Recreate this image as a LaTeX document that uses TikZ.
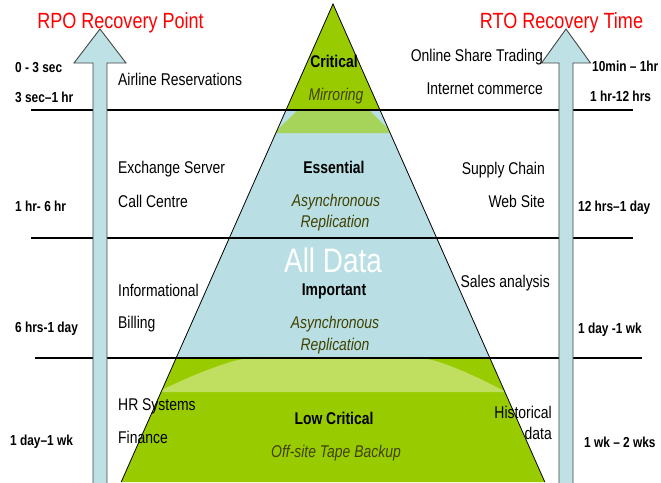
\documentclass[tikz,border=0pt]{standalone}
\usepackage{fontspec}
\setmainfont[FakeStretch=0.82]{Liberation Sans}
\definecolor{lgreen}{RGB}{153,204,0}
\definecolor{lblue}{RGB}{185,223,228}
\definecolor{ablue}{RGB}{190,225,230}
\definecolor{olivetext}{RGB}{64,64,0}
\definecolor{redtxt}{RGB}{255,0,0}
\begin{document}
\begin{tikzpicture}[x=1pt,y=-1pt,
  lbl/.style={font=\fontsize{17}{20}\selectfont, inner sep=0pt},
  tm/.style={font=\bfseries\fontsize{14.5}{17}\selectfont, inner sep=0pt},
  ctrb/.style={font=\bfseries\fontsize{17}{20}\selectfont, inner sep=0pt, anchor=base},
  ctri/.style={font=\itshape\fontsize{17}{20}\selectfont, text=olivetext, inner sep=0pt, anchor=base},
  ttl/.style={font=\fontsize{22}{26}\selectfont, text=redtxt, inner sep=0pt, anchor=base},
  hline/.style={line width=2pt, black},
  barrow/.style={fill=ablue, draw={rgb,255:red,70;green,70;blue,70}, line width=0.9pt, line join=miter}
]
\useasboundingbox (0,0) rectangle (661,482);
\fill[white] (0,0) rectangle (661,482);

% pyramid
\fill[lgreen] (333,4) -- (380,110) -- (286,110) -- cycle;
\fill[lblue] (286,110) -- (380,110) -- (489.8,358) -- (176.2,358) -- cycle;
\fill[lgreen] (176.2,358) -- (489.8,358) -- (544.8,482) -- (121.2,482) -- cycle;
\begin{scope}
  \clip (333,4) -- (544.8,482) -- (121.2,482) -- cycle;
  \fill[lgreen!60!lblue] (297,111) -- (370,111) -- (392,133) -- (274,133) -- cycle;
  \fill[lgreen!62!white] (243,359) -- (427,359) .. controls (445,362) and (480,378) .. (506,392)
        -- (158,392) .. controls (185,378) and (225,362) .. (243,359) -- cycle;
\end{scope}
\draw[black, line width=0.8pt] (121.2,482) -- (333,4) -- (544.8,482);

% horizontal lines
\draw[hline] (31,110) -- (633,110);
\draw[hline] (31,238) -- (633,238);
\draw[hline] (35,358) -- (642,358);

% block arrows
\filldraw[barrow] (93,483) -- (93,63) -- (74,63) -- (100,29) -- (126,63) -- (107,63) -- (107,483);
\filldraw[barrow] (559,483) -- (559,63) -- (541.5,63) -- (566,29) -- (590.5,63) -- (573,63) -- (573,483);

% titles
\node[ttl] (rpo) at (120.5,28.5) {RPO Recovery Point};
\node[ttl] (rto) at (561.5,28.5) {RTO Recovery Time};

% left time labels
\node[tm, anchor=base west] (t1) at (15,72) {0 - 3 sec};
\node[tm, anchor=base west] (t2) at (15,102) {3 sec–1 hr};
\node[tm, anchor=base west] (t3) at (15,211) {1 hr- 6 hr};
\node[tm, anchor=base west] (t4) at (15,332) {6 hrs-1 day};
\node[tm, anchor=base west] (t5) at (10,445) {1 day–1 wk};

% right time labels
\node[tm, anchor=base west] (r1) at (592,71) {10min – 1hr};
\node[tm, anchor=base west] (r2) at (590,101) {1 hr-12 hrs};
\node[tm, anchor=base west] (r3) at (578,211) {12 hrs–1 day};
\node[tm, anchor=base west] (r4) at (578,333) {1 day -1 wk};
\node[tm, anchor=base west] (r5) at (584,447) {1 wk – 2 wks};

% left applications
\node[lbl, anchor=base west] (a1) at (118,85) {Airline Reservations};
\node[lbl, anchor=base west] (a2) at (118,173) {Exchange Server};
\node[lbl, anchor=base west] (a3) at (118,207) {Call Centre};
\node[lbl, anchor=base west] (a4) at (118,296) {Informational};
\node[lbl, anchor=base west] (a5) at (118,328) {Billing};
\node[lbl, anchor=base west] (a6) at (118,410) {HR Systems};
\node[lbl, anchor=base west] (a7) at (118,443) {Finance};

% right applications
\node[lbl, anchor=base east] (b1) at (543,61) {Online Share Trading};
\node[lbl, anchor=base east] (b2) at (543,94) {Internet commerce};
\node[lbl, anchor=base east] (b3) at (545,174) {Supply Chain};
\node[lbl, anchor=base east] (b4) at (545,207) {Web Site};
\node[lbl, anchor=base east] (b5) at (550,287) {Sales analysis};
\node[lbl, anchor=base east] (b6) at (552,418) {Historical};
\node[lbl, anchor=base east] (b7) at (552,439) {data};

% pyramid labels
\node[ctrb] (c1) at (334,67) {Critical};
\node[ctri] (c2) at (336,100) {Mirroring};
\node[ctrb] (c3) at (334,173) {Essential};
\node[ctri] (c4) at (336,206) {Asynchronous};
\node[ctri] (c5) at (335,227) {Replication};
\node[font=\fontsize{34}{40}\selectfont, text=white, inner sep=0pt, anchor=base] (alld) at (333,272) {All Data};
\node[ctrb] (c6) at (334,295) {Important};
\node[ctri] (c7) at (335,328) {Asynchronous};
\node[ctri] (c8) at (335,350) {Replication};
\node[ctrb] (c9) at (334,424) {Low Critical};
\node[ctri] (c10) at (336,457) {Off-site Tape Backup};
\end{tikzpicture}
\end{document}
